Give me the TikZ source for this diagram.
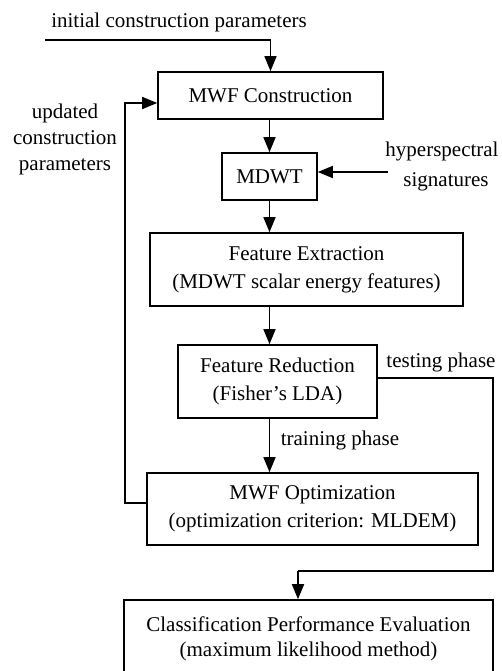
\documentclass[tikz,border=0pt]{standalone}
\usepackage{fontspec}
\setmainfont{Liberation Serif}
\usetikzlibrary{arrows.meta}
\begin{document}
\begin{tikzpicture}[x=1pt,y=-1pt,
 every node/.style={font=\fontsize{21}{27}\selectfont},
 box/.style={draw, line width=1.6pt, inner sep=0pt, align=center},
 lbl/.style={inner sep=0pt, align=center},
 arr/.style={line width=1.6pt, -{Triangle[length=15pt,width=12pt]}},
 ln/.style={line width=1.6pt}]
\clip (0,0) rectangle (502,671);
% boxes
\node[box, minimum width=225pt, minimum height=47pt] (cons) at (270.5,95.5) {MWF Construction};
\node[box, minimum width=95pt, minimum height=47pt] (mdwt) at (269.5,176.5) {MDWT};
\node[box, minimum width=313pt, minimum height=73pt, font=\fontsize{21}{28}\selectfont] (fext) at (306.5,269.5) {Feature Extraction\\(MDWT scalar energy features)};
\node[box, minimum width=199pt, minimum height=73pt, font=\fontsize{21}{28}\selectfont] (fred) at (277.5,381.5) {Feature Reduction\\(Fisher’s LDA)};
\node[box, minimum width=331pt, minimum height=72pt, font=\fontsize{21}{28}\selectfont] (mopt) at (312.5,509) {MWF Optimization\\(optimization criterion: MLDEM)};
\node[box, minimum width=369pt, minimum height=78pt, font=\fontsize{21}{25}\selectfont] (cls) at (308.5,639) {Classification Performance Evaluation\\(maximum likelihood method)};
% labels
\node[lbl] (tini) at (179,22) {initial construction parameters};
\node[lbl, font=\fontsize{21}{26}\selectfont] (tupd) at (65,139) {updated\\construction\\parameters};
\node[lbl, font=\fontsize{21}{30}\selectfont] (thyp) at (442,166) {hyperspectral\\\hspace*{8pt}signatures};
\node[lbl] (ttest) at (441,362) {testing phase};
\node[lbl] (ttrain) at (340,440) {training phase};
% coordinates
\coordinate (ini) at (45,40);
\coordinate (hs) at (388,172);
\coordinate (fb) at (125,503);
\coordinate (tr) at (493,378);
\coordinate (tb) at (493,571);
\coordinate (tl) at (298,571);
% connectors
\draw[arr] (ini) -| (cons.north);
\draw[arr] (cons.south -| mdwt.north) -- (mdwt.north);
\draw[arr] (hs) -- (hs -| mdwt.east);
\draw[arr] (mdwt.south) -- (fext.north -| mdwt.south);
\draw[arr] (fext.south -| mdwt.south) -- (fred.north -| mdwt.south);
\draw[arr] (fred.south -| mdwt.south) -- (mopt.north -| mdwt.south);
\draw[arr] (mopt.west |- fb) -- (fb) |- ([yshift=-7.5pt]cons.west);
\draw[ln] (fred.east |- tr) -- (tr) -- (tb) -- (tl);
\draw[arr] (tl) -- (tl |- cls.north);
\end{tikzpicture}
\end{document}
